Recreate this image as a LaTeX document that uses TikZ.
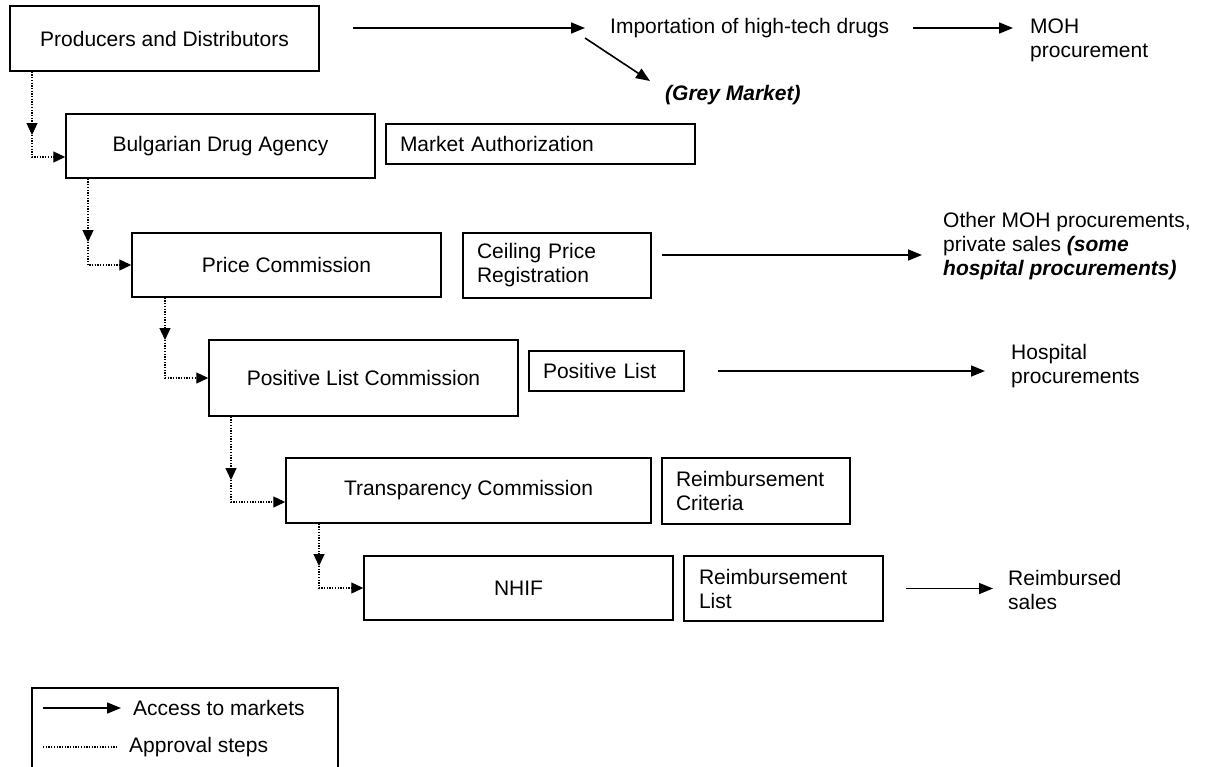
\documentclass[tikz,border=0pt]{standalone}
\usepackage{fontspec}
\setmainfont{Liberation Sans}
\usetikzlibrary{arrows.meta,calc}
\newcommand\dgfs{\fontsize{21}{24}\selectfont}
\begin{document}
\begin{tikzpicture}[x=1pt,y=-1pt,
  every node/.style={font=\dgfs, inner sep=0pt},
  box/.style={draw, line width=1.5pt, minimum width=309, minimum height=64},
  lbox/.style={draw, line width=1.5pt, align=left, inner xsep=14pt, inner ysep=0pt},
  acc/.style={line width=1.6pt, -{Triangle[length=14pt,width=11pt]}},
  appr/.style={line width=1.3pt, dash pattern=on 1.3pt off 1.4pt, -{Triangle[length=12pt,width=11pt]}},
  apprplain/.style={line width=1.3pt, dash pattern=on 1.3pt off 1.4pt},
  txt/.style={anchor=west, align=left}
]
\useasboundingbox (0,0) rectangle (1209,766);

% main boxes
\node[box, minimum height=65] (pd) at (164.5,38.5) {Producers and Distributors};
\node[box] (bda) at (220.5,146) {Bulgarian Drug Agency};
\node[box] (pc) at (286.5,265) {Price Commission};
\node[box, minimum height=76] (plc) at (363.5,378) {Positive List Commission};
\node[box, minimum width=365, minimum height=65] (tc) at (468.5,490.5) {Transparency Commission};
\node[box] (nhif) at (518.5,588) {NHIF};

% side boxes
\node[lbox, text width=281, minimum height=40] (ma) at (540.5,144) {Market Authorization};
\node[lbox, text width=160, minimum height=65] (cpr) at (557,265.5) {Ceiling Price\\Registration};
\node[lbox, text width=127, minimum height=40] (pl) at (606.5,371) {Positive List};
\node[lbox, text width=160, minimum height=66] (rc) at (756,491) {Reimbursement\\Criteria};
\node[lbox, inner xsep=15pt, text width=169, minimum height=65] (rl) at (783.5,588.5) {Reimbursement\\List};

% free texts
\node[txt] (imp) at (610,28) {Importation of high-tech drugs};
\node[txt] (moh) at (1030,40) {MOH\\procurement};
\node[txt, font=\dgfs\bfseries\itshape] (grey) at (665,95) {(Grey Market)};
\node[txt] (other) at (943,246) {Other MOH procurements,\\private sales \textbf{\textit{(some}}\\\textbf{\textit{hospital procurements)}}};
\node[txt] (hosp) at (1011,366) {Hospital\\procurements};
\node[txt] (rs) at (1008,590) {Reimbursed\\sales};

% access arrows
\draw[acc, shorten <=33pt, shorten >=25pt] (pd.east |- imp.west) -- (imp.west);
\draw[acc, shorten <=24pt, shorten >=17pt] (imp.east) -- (imp.east -| moh.west);
\draw[acc] ($(imp.west)+(-25,10)$) -- ($(grey.west)+(-15,-14)$);
\coordinate (s1) at ($(cpr.east)+(0,-10.5)$);
\draw[acc, shorten <=10pt, shorten >=21pt] (s1) -- (s1 -| other.west);
\draw[acc, shorten <=33pt, shorten >=26pt] (pl.east) -- (pl.east -| hosp.west);
\draw[acc, shorten <=22pt, shorten >=15pt] (rl.east) -- (rl.east -| rs.west);

% approval steps
\coordinate (c1) at (32,157);  \coordinate (t1) at (32,135);
\coordinate (c2) at (88,265);  \coordinate (t2) at (88,242);
\coordinate (c3) at (165,378); \coordinate (t3) at (165,340);
\coordinate (c4) at (231,502); \coordinate (t4) at (231,480);
\coordinate (c5) at (319,588); \coordinate (t5) at (319,566);
\draw[appr] (pd.south -| c1) -- (t1);
\draw[appr] (t1) -- (c1) -- (c1 -| bda.west);
\draw[appr] (bda.south -| c2) -- (t2);
\draw[appr] (t2) -- (c2) -- (c2 -| pc.west);
\draw[appr] (pc.south -| c3) -- (t3);
\draw[appr] (t3) -- (c3) -- (c3 -| plc.west);
\draw[appr] (plc.south -| c4) -- (t4);
\draw[appr] (t4) -- (c4) -- (c4 -| tc.west);
\draw[appr] (tc.south -| c5) -- (t5);
\draw[appr] (t5) -- (c5) -- (c5 -| nhif.west);

% legend
\draw[line width=1.5pt] (32,768) -- (32,688) -- (338,688) -- (338,768);
\coordinate (la) at (43,708);
\coordinate (lb) at (43,747);
\node[txt] (l1) at (133,708) {Access to markets};
\node[txt] (l2) at (129,747) {Approval steps};
\draw[acc, shorten >=12pt] (la) -- (l1.west);
\draw[apprplain, shorten >=12pt] (lb) -- (l2.west);
\end{tikzpicture}
\end{document}
